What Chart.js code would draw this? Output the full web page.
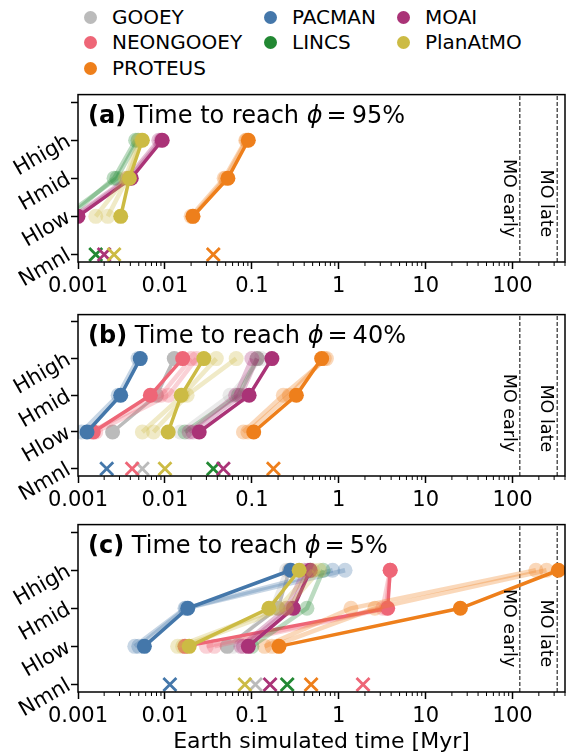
<!DOCTYPE html>
<html>
<head>
<meta charset="utf-8">
<script src="https://cdn.jsdelivr.net/npm/chart.js@4.4.0/dist/chart.umd.min.js"></script>
<style>
  body { margin: 0; background: #fff; }
  #wrap { position: relative; width: 577px; height: 752px; overflow: hidden; font-family: 'DejaVu Sans', sans-serif; }
  canvas { position: absolute; left: 0; }
  .lg { position: absolute; font-size: 20px; line-height: 24px; color: #000; white-space: nowrap; }
  .lg i { position: absolute; width: 13px; height: 13px; border-radius: 50%; left: -28px; top: 5.5px; }
</style>
</head>
<body>
<div id="wrap">
  <div id="legend"></div>
  <canvas id="pa" width="577" height="220" style="top:80px"></canvas>
  <canvas id="pb" width="577" height="210" style="top:300px"></canvas>
  <canvas id="pc" width="577" height="242" style="top:510px"></canvas>
</div>
<script>
// models, in legend order
const models = ['GOOEY', 'NEONGOOEY', 'PROTEUS', 'PACMAN', 'LINCS', 'MOAI', 'PlanAtMO'];
const colors = ['#BBBBBB', '#EE6677', '#EE7F1B', '#4477AA', '#228833', '#AA3377', '#CCBB44'];
const levels = ['Nmnl', 'Hlow', 'Hmid', 'Hhigh', ''];
const xTickLabels = ['0.001', '0.01', '0.1', '1', '10', '100'];
const moTimes = [121, 325];
const moLabels = ['MO early', 'MO late'];
const panelTags = ['(a)', '(b)', '(c)'];
const phiLevels = ['95', '40', '5'];

// times in Myr for [Hlow, Hmid, Hhigh]; null = not shown
// (a) phi = 95%
const mainA = [null, null, [0.021, 0.053, 0.091], null, null, [0.001, 0.0041, 0.0093], [0.0031, 0.0039, 0.0055]];
const fadedA = [
  [], [],
  [[0.021, 0.050, 0.087], [0.020, 0.048, 0.085]],
  [],
  [[0.0008, 0.0026, 0.0046], [0.0007, 0.0028, 0.0049]],
  [[0.0009, 0.0037, 0.0085], [0.00095, 0.0039, 0.009]],
  [[0.0016, 0.0035, 0.005], [0.0022, 0.0037, 0.0053]]
];
const nmnlA = [null, null, 0.036, null, 0.0016, 0.002, 0.0026];

// (b) phi = 40%
const mainB = [[0.0025, 0.008, 0.0128], [0.0015, 0.0068, 0.016], [0.105, 0.325, 0.635], [0.00127, 0.0031, 0.0052], null, [0.0248, 0.093, 0.17], [0.0109, 0.0154, 0.028]];
const fadedB = [
  [[0.015, 0.056, 0.128]],
  [[0.0014, 0.009, 0.02], [0.0016, 0.011, 0.023]],
  [[0.08, 0.23, 0.72], [0.09, 0.27, 0.68]],
  [[0.0011, 0.0029, 0.0049]],
  [[0.017, 0.07, 0.115]],
  [[0.019, 0.065, 0.10], [0.021, 0.075, 0.115]],
  [[0.0055, 0.016, 0.039], [0.0074, 0.018, 0.066]]
];
const nmnlB = [0.0055, 0.0042, 0.177, 0.00214, 0.036, 0.047, 0.01];

// (c) phi = 5%
const mainC = [[0.052, 0.2, 0.27], [0.017, 3.65, 3.9], [0.205, 25, 335], [0.0058, 0.0183, 0.28], null, [0.091, 0.3, 0.47], [0.019, 0.157, 0.35]];
const fadedC = [
  [[0.06, 0.17, 0.25]],
  [[0.03, 3.2, 3.9], [0.037, 3.5, 3.9]],
  [[0.14, 1.38, 185], [0.17, 2.6, 245]],
  [[0.0045, 0.017, 0.85], [0.005, 0.0175, 1.18]],
  [[0.1, 0.43, 0.66]],
  [[0.075, 0.25, 0.4], [0.08, 0.28, 0.44]],
  [[0.014, 0.2, 0.5], [0.016, 0.25, 0.6]]
];
const nmnlC = [0.11, 1.9, 0.48, 0.0114, 0.255, 0.162, 0.083];

const FONT = "'DejaVu Sans', sans-serif";

// legend (html)
const legendPos = [[112, 17], [112, 42], [112, 68], [292, 17], [292, 42], [425, 17], [425, 42]];
const legend = document.getElementById('legend');
models.forEach((m, i) => {
  const d = document.createElement('div');
  d.className = 'lg';
  d.style.left = legendPos[i][0] + 'px';
  d.style.top = (legendPos[i][1] - 12) + 'px';
  d.innerHTML = '<i style="background:' + colors[i] + '"></i>' + m;
  legend.appendChild(d);
});

function fade(hex, a) {
  const n = parseInt(hex.slice(1), 16);
  return 'rgba(' + (n >> 16) + ',' + ((n >> 8) & 255) + ',' + (n & 255) + ',' + a + ')';
}
function isDecade(v) {
  const l = Math.log10(v);
  return Math.abs(l - Math.round(l)) < 1e-6;
}
function toPts(arr) {
  return arr.map((v, i) => ({ x: v, y: i + 1 }));
}

function buildDatasets(main, faded, nmnl) {
  const ds = [];
  moTimes.forEach(t => {
    ds.push({ data: [{ x: t, y: -0.2 }, { x: t, y: 4.2 }], showLine: true, borderColor: '#000',
      borderWidth: 1, borderDash: [4, 2], pointRadius: 0, clip: 0 });
  });
  models.forEach((m, i) => {
    faded[i].forEach(f => {
      ds.push({ data: toPts(f), showLine: true, borderColor: fade(colors[i], 0.3), borderWidth: 4.5,
        backgroundColor: fade(colors[i], 0.3), pointRadius: 7.5, pointBorderWidth: 0, clip: 0 });
    });
    if (main[i]) {
      ds.push({ data: toPts(main[i]), showLine: true, borderColor: colors[i], borderWidth: 3.5,
        backgroundColor: colors[i], pointRadius: 7.5, pointBorderWidth: 0, clip: 0 });
    }
    if (nmnl[i] != null) {
      ds.push({ data: [{ x: nmnl[i], y: 0 }], showLine: false, pointStyle: 'crossRot', pointRadius: 9.2,
        borderColor: colors[i], pointBorderColor: colors[i], pointBorderWidth: 2.8, clip: 0 });
    }
  });
  // chart.js draws dataset 0 last, so reverse to keep this order bottom-to-top
  return ds.reverse();
}

const panelDeco = {
  id: 'panelDeco',
  afterDatasetsDraw(chart) {
    const { ctx, chartArea: a, scales: { x, y } } = chart;
    const k = chart.options.plugins.panelDeco.index;
    ctx.save();
    ctx.strokeStyle = '#000';
    // minor ticks
    ctx.lineWidth = 1;
    x.ticks.forEach(t => {
      if (isDecade(t.value)) return;
      const px = x.getPixelForValue(t.value);
      ctx.beginPath();
      ctx.moveTo(px, a.bottom);
      ctx.lineTo(px, a.bottom + 4);
      ctx.stroke();
    });
    // frame
    ctx.lineWidth = 1.5;
    ctx.strokeRect(a.left, a.top, a.right - a.left, a.bottom - a.top);
    // MO labels
    ctx.fillStyle = '#000';
    ctx.font = '17.5px ' + FONT;
    moTimes.forEach((t, i) => {
      ctx.save();
      ctx.translate(x.getPixelForValue(t) - 16, y.getPixelForValue(0.45));
      ctx.rotate(Math.PI / 2);
      ctx.textAlign = 'right';
      ctx.textBaseline = 'alphabetic';
      ctx.fillText(moLabels[i], 0, 0);
      ctx.restore();
    });
    // panel title
    let tx = a.left + 10;
    const ty = a.top + 28;
    ctx.textAlign = 'left';
    ctx.textBaseline = 'alphabetic';
    ctx.font = 'bold 24px ' + FONT;
    ctx.fillText(panelTags[k], tx, ty);
    tx += ctx.measureText(panelTags[k]).width;
    ctx.font = '24px ' + FONT;
    ctx.fillText(' Time to reach ', tx, ty);
    tx += ctx.measureText(' Time to reach ').width;
    ctx.font = 'italic 24px ' + FONT;
    ctx.fillText('\u03D5', tx, ty);
    tx += ctx.measureText('\u03D5').width + 4;
    ctx.font = '24px ' + FONT;
    ctx.fillText('=', tx, ty);
    tx += ctx.measureText('=').width + 5;
    ctx.fillText(phiLevels[k] + '%', tx, ty);
    ctx.restore();
  }
};

function makePanel(id, k, main, faded, nmnl, padTop, xHeight, withTitle) {
  return new Chart(document.getElementById(id), {
    type: 'scatter',
    data: { datasets: buildDatasets(main, faded, nmnl) },
    options: {
      responsive: false,
      animation: false,
      events: [],
      layout: { padding: { top: padTop, right: 1, left: 0, bottom: 0 } },
      plugins: { legend: { display: false }, tooltip: { enabled: false }, panelDeco: { index: k } },
      scales: {
        x: {
          type: 'logarithmic',
          min: 0.001,
          max: 400,
          afterBuildTicks(scale) {
            const t = [];
            for (let e = -3; e <= 2; e++) {
              for (let m = 1; m <= 9; m++) {
                const v = m * Math.pow(10, e);
                if (v <= 400.0001) t.push({ value: v });
              }
            }
            scale.ticks = t;
          },
          afterFit(scale) { scale.height = xHeight; },
          ticks: {
            autoSkip: false, maxRotation: 0, minRotation: 0, padding: 5,
            color: '#000', font: { family: FONT, size: 21 },
            callback(v) {
              if (!isDecade(v)) return '';
              return xTickLabels[Math.round(Math.log10(v)) + 3];
            }
          },
          grid: {
            drawOnChartArea: false, tickLength: 7, tickWidth: 1.5,
            tickColor: c => (c.tick && isDecade(c.tick.value)) ? '#000' : 'rgba(0,0,0,0)'
          },
          border: { display: false },
          title: {
            display: withTitle, text: 'Earth simulated time [Myr]', color: '#000',
            font: { family: FONT, size: 22 }, padding: { top: 0, bottom: -3 }
          }
        },
        y: {
          type: 'linear',
          min: -0.2,
          max: 4.2,
          afterBuildTicks(scale) {
            scale.ticks = [0, 1, 2, 3, 4].map(v => ({ value: v }));
          },
          afterFit(scale) { scale.width = 78; },
          ticks: {
            autoSkip: false, minRotation: 30, maxRotation: 30, padding: 2,
            color: '#000', font: { family: FONT, size: 21 },
            callback(v) { return levels[v]; }
          },
          grid: { drawOnChartArea: false, tickLength: 7, tickWidth: 1.5, tickColor: '#000' },
          border: { display: false }
        }
      }
    },
    plugins: [panelDeco]
  });
}

makePanel('pa', 0, mainA, fadedA, nmnlA, 8, 38, false);
makePanel('pb', 1, mainB, fadedB, nmnlB, 4, 34, false);
makePanel('pc', 2, mainC, fadedC, nmnlC, 9, 60, true);
</script>
</body>
</html>
